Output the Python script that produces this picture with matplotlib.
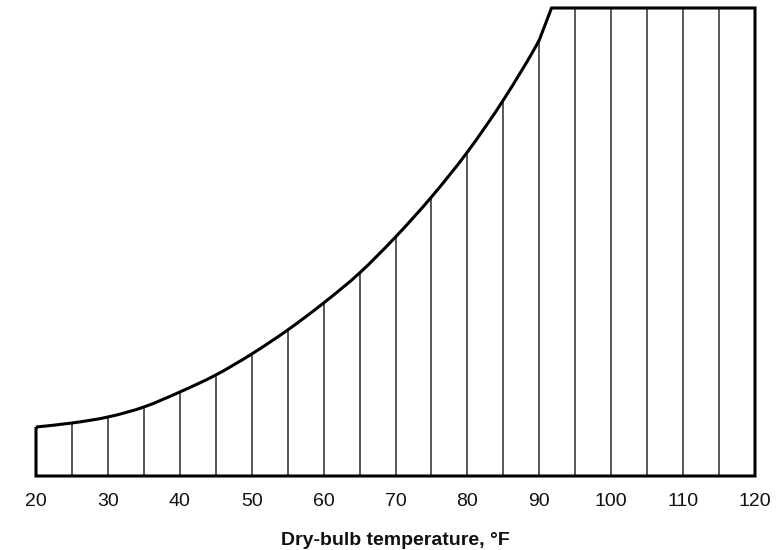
import matplotlib
matplotlib.use("Agg")
import matplotlib.pyplot as plt
from matplotlib.path import Path
from matplotlib.patches import PathPatch
import numpy as np

# Curve (arbitrary height units above baseline)
temps = [20, 25, 30, 35, 40, 45, 50, 55, 60, 65, 70, 75, 80, 85, 90, 91.7]
heights = [49, 53, 59, 69, 84, 101, 122, 146, 173, 203, 239, 279, 324, 376, 436, 468]
cap_height = 468
x_max = 120
hatch_temps = [25, 30, 35, 40, 45, 50, 55, 60, 65, 70, 75, 80, 85, 90, 95, 100, 105, 110, 115]
tick_vals = [20, 30, 40, 50, 60, 70, 80, 90, 100, 110, 120]
xlabel = "Dry-bulb temperature, °F"

plt.rcParams['font.family'] = ['Liberation Sans', 'DejaVu Sans']

fig = plt.figure(figsize=(7.84, 5.5), dpi=100)
ax = fig.add_axes([36/784, (550-476)/550, 719/784, 468/550])

# vertical hatch lines
for t in hatch_temps:
    h = float(np.interp(t, temps + [x_max], heights + [cap_height]))
    ax.plot([t, t], [0, h], color='#2a2a2a', lw=1.1, clip_on=False, zorder=2)

# smooth curve through the read points (Catmull-Rom as cubic Bezier path),
# final short piece up to the cap drawn straight
P = np.column_stack([temps, heights]).astype(float)
verts = [tuple(P[0])]
codes = [Path.MOVETO]
n = len(P)
for i in range(n - 2):
    p0 = P[i - 1] if i > 0 else P[i]
    p1, p2 = P[i], P[i + 1]
    p3 = P[i + 2]
    c1 = p1 + (p2 - p0) / 6.0
    c2 = p2 - (p3 - p1) / 6.0
    verts += [tuple(c1), tuple(c2), tuple(p2)]
    codes += [Path.CURVE4] * 3
verts += [tuple(P[-1]), (x_max, cap_height), (x_max, 0), (temps[0], 0), tuple(P[0])]
codes += [Path.LINETO] * 5
ax.add_patch(PathPatch(Path(verts, codes), fill=False, edgecolor='black',
                       lw=2.2, clip_on=False, zorder=3, joinstyle='miter'))

ax.set_xlim(20, 120)
ax.set_ylim(0, cap_height)
for s in ax.spines.values():
    s.set_visible(False)
ax.set_yticks([])
ax.set_xticks(tick_vals)
ax.set_xticklabels([str(v) for v in tick_vals])
ax.tick_params(axis='x', length=0, pad=12, labelsize=14, colors='#111111')
ax.set_xlabel(xlabel, fontsize=14, fontweight='bold', labelpad=16, color='#111111')

fig.savefig("out.png", dpi=100)
